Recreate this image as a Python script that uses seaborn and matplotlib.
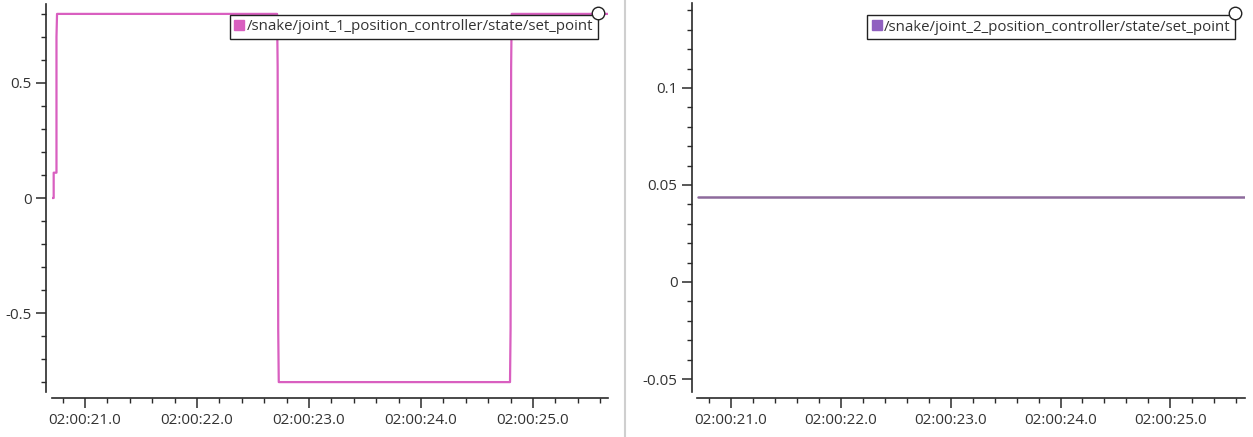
import matplotlib
matplotlib.use("Agg")
import matplotlib.pyplot as plt
from matplotlib.ticker import MultipleLocator, FuncFormatter
from matplotlib.lines import Line2D
import seaborn as sns
import pandas as pd

sns.set_theme(style="white")
plt.rcParams['font.family'] = ['Open Sans', 'DejaVu Sans']

# ---- data (seconds after 02:00:00) ----
j1_time = [20.705, 20.72, 20.72, 20.745, 20.745, 20.75, 22.715, 22.72, 22.725, 22.73,
           24.795, 24.80, 24.805, 24.81, 25.69]
j1_value = [0.0, 0.0, 0.11, 0.11, 0.70, 0.80, 0.80, 0.57, -0.57, -0.80,
            -0.80, -0.57, 0.57, 0.80, 0.80]
j2_time = [20.70, 21.5, 22.5, 23.5, 24.5, 25.68]
j2_value = [0.0438, 0.0438, 0.0438, 0.0438, 0.0438, 0.0438]

j1_label = "/snake/joint_1_position_controller/state/set_point"
j2_label = "/snake/joint_2_position_controller/state/set_point"
j1_color = "#d95fc0"
j2_color = "#8d6a9c"
j2_legend_color = "#9060c0"
text_color = "#333333"

W, H = 1253, 437
fig = plt.figure(figsize=(W / 100, H / 100), dpi=100)
fig.patch.set_facecolor("white")

def px_axes(x0, y0, x1, y1):
    return fig.add_axes([x0 / W, 1 - y1 / H, (x1 - x0) / W, (y1 - y0) / H])

ax1 = px_axes(52, 4, 608, 392)
ax2 = px_axes(697, 3, 1245, 392)

df1 = pd.DataFrame({"t": j1_time, "v": j1_value})
df2 = pd.DataFrame({"t": j2_time, "v": j2_value})
sns.lineplot(data=df1, x="t", y="v", ax=ax1, color=j1_color, lw=1.6,
             estimator=None, sort=False)
sns.lineplot(data=df2, x="t", y="v", ax=ax2, color=j2_color, lw=1.8,
             estimator=None, sort=False)

ax1.set_xlim(20.705, 25.67)
ax1.set_ylim(-0.843, 0.843)
ax2.set_xlim(20.69, 25.68)
ax2.set_ylim(-0.0567, 0.1438)

def time_fmt(x, pos):
    return "02:00:%04.1f" % x

def num_fmt(y, pos):
    s = "%g" % round(y, 6)
    return "0" if s in ("-0", "0") else s

for ax, ymaj, ymin, off in ((ax1, 0.5, 0.1, 4.3), (ax2, 0.05, 0.01, 3.6)):
    ax.set_facecolor("white")
    ax.set_xlabel("")
    ax.set_ylabel("")
    for s in ("top", "right"):
        ax.spines[s].set_visible(False)
    for s in ("left", "bottom"):
        ax.spines[s].set_color("#2a2a2a")
        ax.spines[s].set_linewidth(1.2)
    ax.spines["left"].set_position(("outward", off))
    ax.spines["bottom"].set_position(("outward", 4.3))
    ax.xaxis.set_major_locator(MultipleLocator(1.0))
    ax.xaxis.set_minor_locator(MultipleLocator(0.2))
    ax.yaxis.set_major_locator(MultipleLocator(ymaj))
    ax.yaxis.set_minor_locator(MultipleLocator(ymin))
    ax.xaxis.set_major_formatter(FuncFormatter(time_fmt))
    ax.yaxis.set_major_formatter(FuncFormatter(num_fmt))
    ax.tick_params(which="major", direction="out", length=7, width=1.1,
                   color="#2a2a2a", labelsize=11, labelcolor=text_color, pad=3.5,
                   bottom=True, left=True)
    ax.tick_params(which="minor", direction="out", length=3.5, width=1.0,
                   color="#2a2a2a", bottom=True, left=True)
    ax.grid(False)

for ax, lab, col, anchor in ((ax1, j1_label, j1_color, (0.982, 0.972)),
                             (ax2, j2_label, j2_legend_color, (0.982, 0.969))):
    h = Line2D([], [], marker="s", color=col, lw=0, markersize=7.5)
    leg = ax.legend([h], [lab], loc="upper right", bbox_to_anchor=anchor,
                    fancybox=False, framealpha=1, edgecolor="#222222",
                    fontsize=10.8, handlelength=0.7, handletextpad=0.15,
                    borderpad=0.3, borderaxespad=0, labelcolor=text_color)
    leg.get_frame().set_linewidth(1.0)
    # small resize handle at the legend's top right corner
    ax.plot([anchor[0]], [anchor[1] + 0.005], marker="o", markersize=9,
            markerfacecolor="white", markeredgecolor="#222222",
            markeredgewidth=1.0, transform=ax.transAxes, clip_on=False, zorder=10)

# panel separator
fig.add_artist(Line2D([624.5 / W, 624.5 / W], [0, 1], color="#cfcfcf", lw=1.5))

fig.savefig("out.png", dpi=100, facecolor="white")
